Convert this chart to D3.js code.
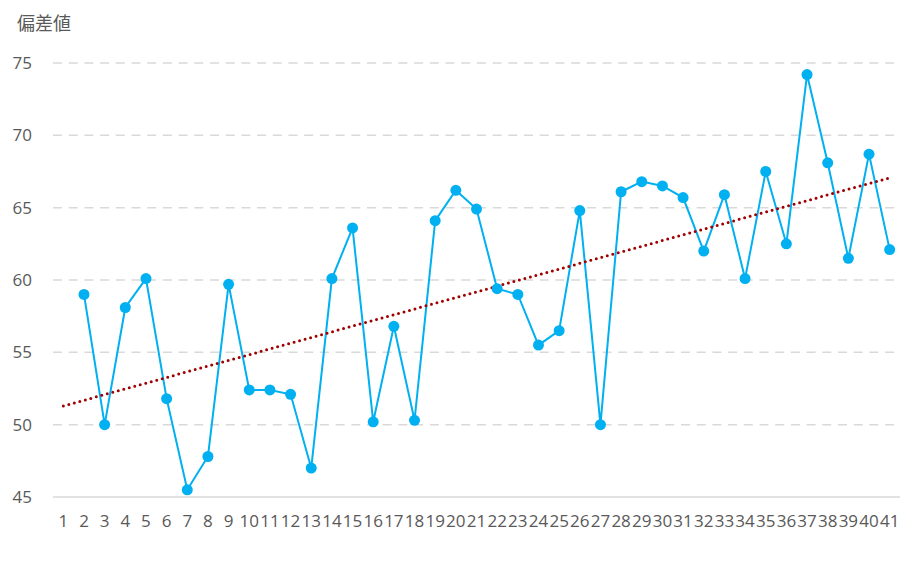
<!DOCTYPE html>
<html>
<head>
<meta charset="utf-8">
<script src="https://cdn.jsdelivr.net/npm/d3@7"></script>
<style>
  body { margin: 0; background: #fff; }
  text { font-family: "Open Sans", "Noto Sans", sans-serif; fill: #595959; }
</style>
</head>
<body>
<svg width="919" height="566"></svg>
<script>
// categories 1..41, first one has no value
let categories = d3.range(1, 42).map(String);
let values = [null, 59.0, 50.0, 58.1, 60.1, 51.8, 45.5, 47.8, 59.7, 52.4,
  52.4, 52.1, 47.0, 60.1, 63.6, 50.2, 56.8, 50.3, 64.1, 66.2,
  64.9, 59.4, 59.0, 55.5, 56.5, 64.8, 50.0, 66.1, 66.8, 66.5,
  65.7, 62.0, 65.9, 60.1, 67.5, 62.5, 74.2, 68.1, 61.5, 68.7, 62.1];
let yTicks = [45, 50, 55, 60, 65, 70, 75];
let yTitle = "偏差値";

let svg = d3.select("svg");
let plotL = 53, plotR = 900, plotT = 63, plotB = 497;

let x = d3.scaleBand().domain(categories).range([plotL, plotR]);
let y = d3.scaleLinear().domain([45, 75]).range([plotB, plotT]);
let cx = c => x(c) + x.bandwidth() / 2;

// gridlines
svg.append("g")
  .selectAll("line")
  .data(yTicks.filter(t => t > 45))
  .enter().append("line")
  .attr("x1", plotL).attr("x2", plotR)
  .attr("y1", d => y(d)).attr("y2", d => y(d))
  .attr("stroke", "#d9d9d9")
  .attr("stroke-width", 1.5)
  .attr("stroke-dasharray", "9,6.7");

// bottom axis line
svg.append("line")
  .attr("x1", plotL).attr("x2", plotR)
  .attr("y1", plotB).attr("y2", plotB)
  .attr("stroke", "#d9d9d9")
  .attr("stroke-width", 1.5);

// y labels
let yAxis = d3.axisLeft(y).tickValues(yTicks).tickSize(0).tickPadding(0);
let gy = svg.append("g").attr("transform", "translate(32,0)").call(yAxis);
gy.select(".domain").remove();
gy.selectAll("text")
  .style("font-size", "17px")
  .attr("fill", "#595959")
  .style("font-family", "'Open Sans', sans-serif");

// x labels
let xAxis = d3.axisBottom(x).tickSize(0).tickPadding(0);
let gx = svg.append("g").attr("transform", "translate(0,515)").call(xAxis);
gx.select(".domain").remove();
gx.selectAll("text")
  .style("font-size", "17px")
  .attr("fill", "#595959")
  .attr("dy", "0.71em")
  .style("font-family", "'Open Sans', sans-serif");

// title
svg.append("text")
  .attr("x", 17).attr("y", 30)
  .style("font-family", "'Noto Sans CJK JP', sans-serif")
  .style("font-size", "18px")
  .attr("fill", "#404040")
  .text(yTitle);

// series
let pts = categories.map((c, i) => ({ c: c, i: i + 1, v: values[i] })).filter(d => d.v != null);

let line = d3.line().x(d => cx(d.c)).y(d => y(d.v));
svg.append("path")
  .datum(pts)
  .attr("d", line)
  .attr("fill", "none")
  .attr("stroke", "#00b0f0")
  .attr("stroke-width", 2);

// linear trend (least squares)
let mx = d3.mean(pts, d => d.i), my = d3.mean(pts, d => d.v);
let slope = d3.sum(pts, d => (d.i - mx) * (d.v - my)) / d3.sum(pts, d => (d.i - mx) * (d.i - mx));
let icpt = my - slope * mx;
let trend = [1, 41].map(i => ({ c: String(i), v: icpt + slope * i }));
svg.append("path")
  .datum(trend)
  .attr("d", line)
  .attr("fill", "none")
  .attr("stroke", "#a00000")
  .attr("stroke-width", 3)
  .attr("stroke-linecap", "round")
  .attr("stroke-dasharray", "0,5.7");

svg.append("g")
  .selectAll("circle")
  .data(pts)
  .enter().append("circle")
  .attr("cx", d => cx(d.c))
  .attr("cy", d => y(d.v))
  .attr("r", 5.5)
  .attr("fill", "#00b0f0");
</script>
</body>
</html>
